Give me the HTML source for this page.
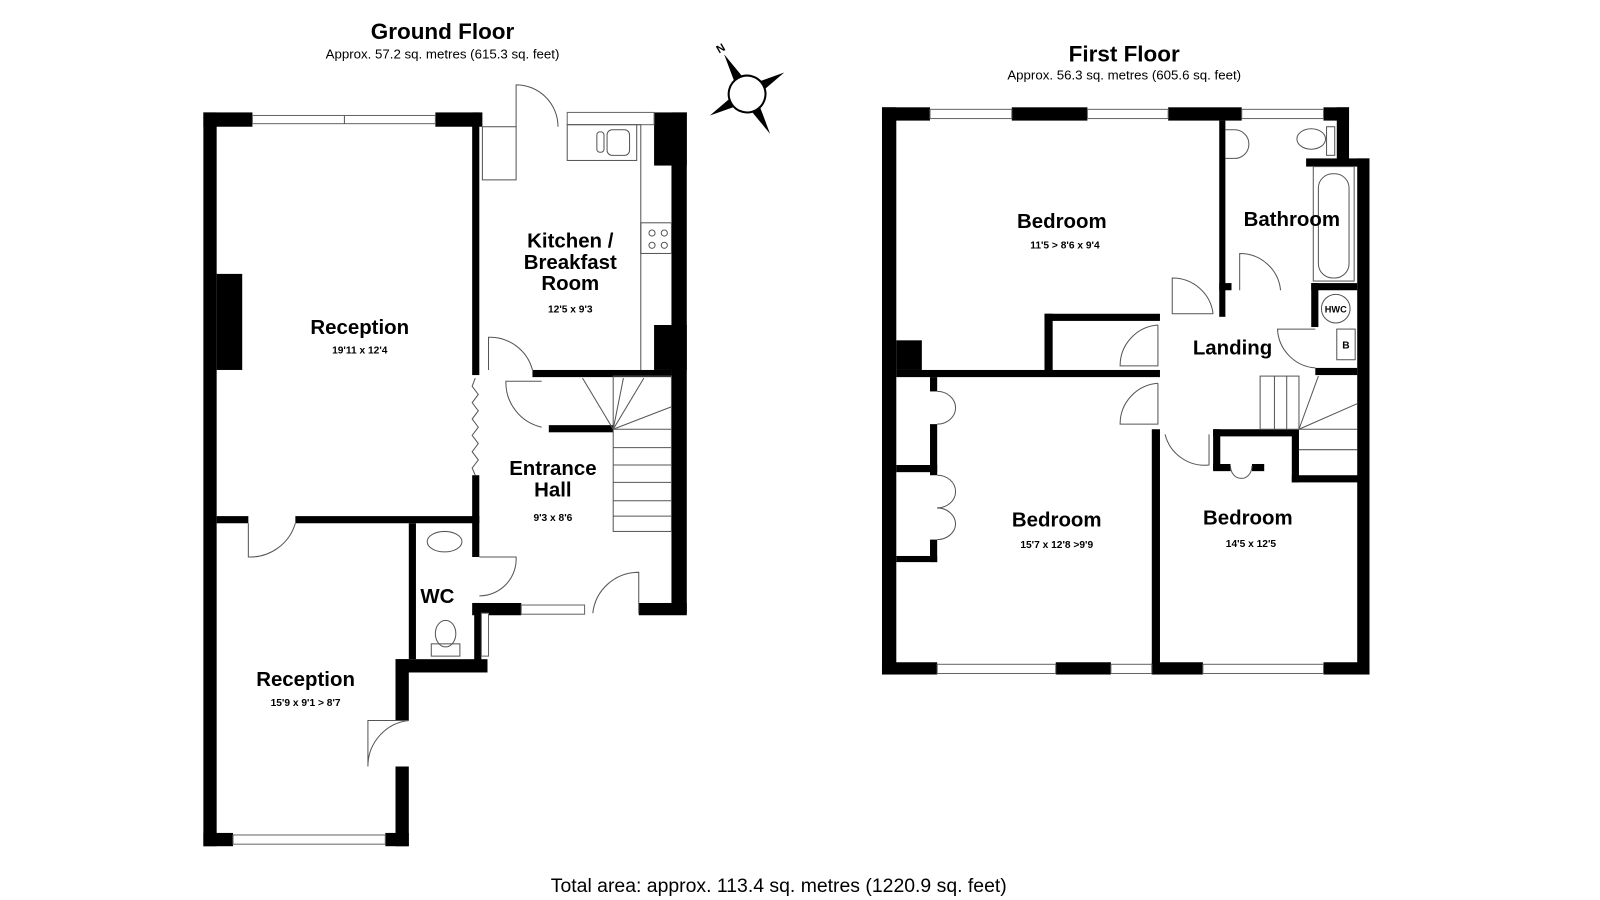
<!DOCTYPE html>
<html><head><meta charset="utf-8"><style>
html,body{margin:0;padding:0;background:#fff;width:1600px;height:900px;overflow:hidden}
svg{display:block}
text{font-family:"Liberation Sans",sans-serif;fill:#000}
.t{font-weight:bold;font-size:20px;text-anchor:middle}
.d{font-weight:bold;font-size:10px;text-anchor:middle}
.h{font-weight:bold;font-size:22px;text-anchor:middle}
.s{font-size:13px;text-anchor:middle}
.l{fill:none;stroke:#555;stroke-width:1}
.w{fill:#fff;stroke:#666;stroke-width:1}
</style></head><body>
<svg width="1600" height="900" viewBox="0 0 1600 900">
<g transform="scale(1.022)">
<!-- titles -->
<text class="h" x="433" y="38">Ground Floor</text>
<text class="s" x="433" y="57">Approx. 57.2 sq. metres (615.3 sq. feet)</text>
<text class="h" x="1100" y="60">First Floor</text>
<text class="s" x="1100" y="78">Approx. 56.3 sq. metres (605.6 sq. feet)</text>
<text x="762" y="873" style="font-size:19px;text-anchor:middle">Total area: approx. 113.4 sq. metres (1220.9 sq. feet)</text>

<!-- compass -->
<g transform="translate(731,92) rotate(-30)">
<polygon points="0,-45 5,-15 -5,-15" fill="#000"/>
<polygon points="0,45 5,15 -5,15" fill="#000"/>
<polygon points="-42,0 -15,5 -15,-5" fill="#000"/>
<polygon points="42,0 15,5 15,-5" fill="#000"/>
<circle r="18" fill="#fff" stroke="#000" stroke-width="2"/>
<text x="0" y="-48" style="font-size:11px;font-weight:bold;text-anchor:middle">N</text>
</g>

<!-- ===== GROUND FLOOR ===== -->
<g fill="#000">
<rect x="199" y="110" width="13" height="718"/>
<rect x="199" y="110" width="48" height="14"/>
<rect x="426" y="110" width="46" height="14"/>
<rect x="462" y="110" width="7" height="257"/>
<rect x="212" y="268" width="25" height="94"/>
<rect x="640" y="110" width="32" height="52"/>
<rect x="657" y="110" width="15" height="490"/>
<rect x="640" y="318" width="32" height="44"/>
<rect x="521" y="362" width="136" height="7"/>
<rect x="537" y="416" width="63" height="7"/>
<rect x="462" y="465" width="7" height="80"/>
<rect x="212" y="505" width="31" height="7"/>
<rect x="289" y="505" width="180" height="7"/>
<rect x="400" y="512" width="7" height="133"/>
<rect x="462" y="590" width="48" height="12"/>
<rect x="625" y="590" width="47" height="12"/>
<rect x="387" y="645" width="90" height="13"/>
<rect x="464" y="590" width="7" height="60"/>
<rect x="387" y="645" width="13" height="60"/>
<rect x="387" y="750" width="13" height="78"/>
<rect x="199" y="815" width="29" height="13"/>
<rect x="377" y="815" width="23" height="13"/>
</g>
<rect class="w" x="247" y="113" width="179" height="8"/>
<line class="l" x1="337" y1="113" x2="337" y2="121"/>
<rect class="w" x="555" y="110" width="85" height="12"/>
<rect class="w" x="510" y="592" width="62" height="9"/>
<rect class="w" x="228" y="817" width="149" height="9"/>
<rect class="w" x="471" y="600" width="7" height="42"/>
<rect class="l" x="555" y="122" width="68" height="35"/>
<rect class="l" x="594" y="127" width="22" height="25" rx="5"/>
<rect class="l" x="584" y="129" width="7" height="20" rx="3"/>
<line class="l" x1="627" y1="122" x2="627" y2="362"/>
<line class="l" x1="623" y1="122" x2="627" y2="122"/>
<rect class="l" x="627" y="218" width="30" height="30"/>
<circle class="l" cx="638" cy="228" r="3"/><circle class="l" cx="650" cy="228" r="3"/>
<circle class="l" cx="638" cy="240" r="3"/><circle class="l" cx="650" cy="240" r="3"/>
<rect class="l" x="472" y="124" width="33" height="52"/>
<path class="l" d="M505 124 L505 83 A41 41 0 0 1 546 124"/>
<path class="l" d="M478 362 L478 330 A43 43 0 0 1 521 362"/>
<path class="l" d="M530 373 L495 373 A45 45 0 0 0 530 418"/>
<path class="l" d="M243 512 L243 545 A46 46 0 0 0 289 512"/>
<path class="l" d="M469 545 L505 545 A36 36 0 0 1 469 583"/>
<path class="l" d="M625 600 L625 560 A45 45 0 0 0 580 600"/>
<path class="l" d="M400 705 L360 705 L360 750 A45 45 0 0 1 400 705"/>
<polyline class="l" points="465,370 462,378 468,386 462,394 468,402 462,410 468,418 462,426 468,434 462,442 468,450 462,458 465,465"/>
<rect class="l" x="600" y="368" width="57" height="152"/>
<line class="l" x1="600" y1="420" x2="657" y2="420"/>
<line class="l" x1="600" y1="438" x2="657" y2="438"/>
<line class="l" x1="600" y1="455" x2="657" y2="455"/>
<line class="l" x1="600" y1="472" x2="657" y2="472"/>
<line class="l" x1="600" y1="490" x2="657" y2="490"/>
<line class="l" x1="600" y1="505" x2="657" y2="505"/>
<line class="l" x1="600" y1="420" x2="570" y2="370"/>
<line class="l" x1="600" y1="420" x2="610" y2="370"/>
<line class="l" x1="600" y1="420" x2="630" y2="370"/>
<line class="l" x1="600" y1="420" x2="657" y2="398"/>
<ellipse class="l" cx="435" cy="530" rx="17" ry="10"/>
<ellipse class="l" cx="436" cy="620" rx="10" ry="13"/>
<rect class="l" x="422" y="630" width="28" height="12"/>
<text class="t" x="352" y="327">Reception</text>
<text class="d" x="352" y="346">19'11 x 12'4</text>
<text class="t" x="558" y="242">Kitchen /</text>
<text class="t" x="558" y="263">Breakfast</text>
<text class="t" x="558" y="284">Room</text>
<text class="d" x="558" y="306">12'5 x 9'3</text>
<text class="t" x="541" y="465">Entrance</text>
<text class="t" x="541" y="486">Hall</text>
<text class="d" x="541" y="510">9'3 x 8'6</text>
<text class="t" x="428" y="590">WC</text>
<text class="t" x="299" y="671">Reception</text>
<text class="d" x="299" y="691">15'9 x 9'1 &gt; 8'7</text>

<!-- ===== FIRST FLOOR ===== -->
<g fill="#000">
<rect x="863" y="105" width="14" height="555"/>
<rect x="863" y="105" width="47" height="13"/>
<rect x="990" y="105" width="74" height="13"/>
<rect x="1143" y="105" width="72" height="13"/>
<rect x="1295" y="105" width="25" height="13"/>
<rect x="1308" y="105" width="12" height="55"/>
<rect x="1278" y="155" width="62" height="8"/>
<rect x="1328" y="155" width="12" height="505"/>
<rect x="863" y="648" width="54" height="12"/>
<rect x="1033" y="648" width="54" height="12"/>
<rect x="1127" y="648" width="50" height="12"/>
<rect x="1295" y="648" width="45" height="12"/>
<rect x="1193" y="118" width="6" height="192"/>
<rect x="1193" y="277" width="12" height="7"/>
<rect x="1283" y="277" width="45" height="7"/>
<rect x="1283" y="277" width="7" height="43"/>
<rect x="1287" y="360" width="41" height="7"/>
<rect x="877" y="362" width="258" height="7"/>
<rect x="1022" y="307" width="8" height="58"/>
<rect x="1022" y="307" width="113" height="7"/>
<rect x="877" y="333" width="25" height="29"/>
<rect x="1127" y="420" width="8" height="240"/>
<rect x="910" y="369" width="7" height="14"/>
<rect x="910" y="415" width="7" height="50"/>
<rect x="877" y="455" width="40" height="7"/>
<rect x="910" y="528" width="7" height="22"/>
<rect x="877" y="544" width="40" height="6"/>
<rect x="1187" y="420" width="80" height="7"/>
<rect x="1187" y="420" width="7" height="40"/>
<rect x="1187" y="454" width="17" height="7"/>
<rect x="1225" y="454" width="12" height="7"/>
<rect x="1264" y="420" width="7" height="52"/>
<rect x="1264" y="465" width="66" height="7"/>
</g>
<rect class="w" x="910" y="107" width="80" height="9"/>
<rect class="w" x="1064" y="107" width="79" height="9"/>
<rect class="w" x="1215" y="107" width="80" height="9"/>
<rect class="w" x="917" y="650" width="116" height="9"/>
<rect class="w" x="1087" y="650" width="40" height="9"/>
<rect class="w" x="1177" y="650" width="118" height="9"/>
<path class="l" d="M1199 127 L1208 127 A14 14 0 0 1 1208 155 L1199 155"/>
<ellipse class="l" cx="1283" cy="136" rx="14" ry="10"/>
<rect class="l" x="1298" y="124" width="8" height="28"/>
<rect class="l" x="1285" y="163" width="40" height="112"/>
<rect class="l" x="1290" y="170" width="30" height="102" rx="14"/>
<circle class="l" cx="1307" cy="302" r="14"/>
<text x="1307" y="306" style="font-size:9px;font-weight:bold;text-anchor:middle">HWC</text>
<rect class="l" x="1308" y="322" width="18" height="30"/>
<text x="1317" y="341" style="font-size:10px;font-weight:bold;text-anchor:middle">B</text>
<path class="l" d="M1213 284 L1213 248 A40 40 0 0 1 1253 284"/>
<path class="l" d="M1187 307 L1147 307 L1147 272 A40 40 0 0 1 1187 307"/>
<path class="l" d="M1133 318 L1133 358 L1096 358 A40 40 0 0 1 1133 318"/>
<path class="l" d="M1133 375 L1133 415 L1096 415 A40 40 0 0 1 1133 375"/>
<path class="l" d="M1140 425 A40 40 0 0 0 1183 455 L1183 425"/>
<path class="l" d="M1287 322 L1250 322 A40 40 0 0 0 1287 360"/>
<path class="l" d="M917 383 A18 16 0 0 1 935 399 A18 16 0 0 1 917 415"/>
<path class="l" d="M917 465 A18 16 0 0 1 935 481 A18 16 0 0 1 917 497"/>
<path class="l" d="M917 497 A18 16 0 0 1 935 513 A18 16 0 0 1 917 528"/>
<path class="l" d="M1204 456 A10 12 0 0 0 1214 468 A10 12 0 0 0 1225 456"/>
<rect class="l" x="1233" y="368" width="38" height="52"/>
<line class="l" x1="1247" y1="368" x2="1247" y2="420"/>
<line class="l" x1="1259" y1="368" x2="1259" y2="420"/>
<line class="l" x1="1271" y1="420" x2="1290" y2="368"/>
<line class="l" x1="1271" y1="420" x2="1328" y2="395"/>
<line class="l" x1="1271" y1="420" x2="1328" y2="420"/>
<line class="l" x1="1271" y1="440" x2="1328" y2="440"/>
<text class="t" x="1039" y="223">Bedroom</text>
<text class="d" x="1042" y="243">11'5 &gt; 8'6 x 9'4</text>
<text class="t" x="1264" y="221">Bathroom</text>
<text class="t" x="1206" y="347">Landing</text>
<text class="t" x="1034" y="515">Bedroom</text>
<text class="d" x="1034" y="536">15'7 x 12'8 &gt;9'9</text>
<text class="t" x="1221" y="513">Bedroom</text>
<text class="d" x="1224" y="535">14'5 x 12'5</text>
</g>
</svg>
</body></html>
